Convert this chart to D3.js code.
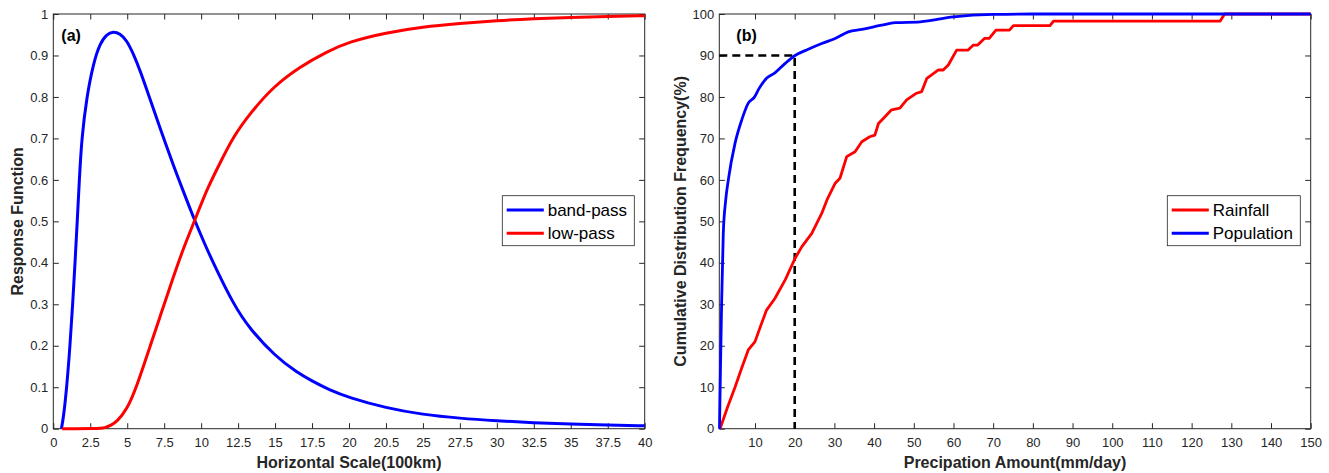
<!DOCTYPE html>
<html>
<head>
<meta charset="utf-8">
<script src="https://cdn.jsdelivr.net/npm/d3@7"></script>
<style>
  body { margin: 0; background: #fff; }
  svg { display: block; font-family: "Liberation Sans", Arial, sans-serif; }
</style>
</head>
<body>
<div id="chart"></div>
<script>
// ---- panel (a): response functions, [scale(100km), response]
const bandPass = [
  [0.55, 0], [0.7, 0.03], [0.91, 0.1], [1.13, 0.2], [1.31, 0.3], [1.47, 0.4],
  [1.62, 0.5], [1.76, 0.6], [1.92, 0.7], [2.26, 0.8], [2.71, 0.881], [3.16, 0.929],
  [3.6, 0.951], [4.06, 0.958], [4.5, 0.953], [4.96, 0.937], [5.4, 0.905], [5.86, 0.865],
  [6.54, 0.795], [7.22, 0.725], [8.12, 0.635], [8.79, 0.573], [9.58, 0.5], [10.37, 0.435],
  [10.82, 0.4], [12.18, 0.3], [13.26, 0.242], [15, 0.175], [16.5, 0.135], [17.5, 0.115],
  [18.7, 0.093], [20, 0.075], [22.5, 0.05], [25, 0.034], [27.5, 0.025], [30, 0.019],
  [32.5, 0.014], [35, 0.011], [37.5, 0.009], [40, 0.007]
];
const lowPass = [
  [0.6, 0], [3.0, 0], [3.5, 0.002], [3.9, 0.008], [4.29, 0.017], [4.97, 0.045],
  [5.64, 0.101], [6.54, 0.198], [7.22, 0.27], [7.89, 0.342], [8.79, 0.435], [9.58, 0.503],
  [10.37, 0.576], [11.27, 0.64], [12.17, 0.704], [13.3, 0.76], [14.88, 0.825],
  [16.69, 0.873], [18.49, 0.909], [20, 0.933], [22.5, 0.955], [25, 0.969], [27.5, 0.977],
  [30, 0.984], [32.5, 0.989], [35, 0.992], [37.5, 0.994], [40, 0.996]
];
const xTicksA = [0, 2.5, 5, 7.5, 10, 12.5, 15, 17.5, 20, 22.5, 25, 27.5, 30, 32.5, 35, 37.5, 40];
const xTickLabelsA = ["0", "2.5", "5", "7.5", "10", "12.5", "15", "17.5", "20", "20.5",
  "25", "27.5", "30", "32.5", "35", "37.5", "40"];
const yTicksA = [0, 0.1, 0.2, 0.3, 0.4, 0.5, 0.6, 0.7, 0.8, 0.9, 1];

// ---- panel (b): cumulative distribution, [mm/day, %]
const rainfall = [
  [1.2, 0], [3, 5], [4.96, 10], [6.6, 14.5], [8.3, 19], [10, 21], [11.5, 25], [12.9, 28.6],
  [15, 31.4], [17.6, 35.9], [20.1, 41.1], [21.8, 43.9], [24.3, 47.1], [26.8, 51.9],
  [28.1, 55.1], [30.2, 59.2], [31.4, 60.4], [33.1, 65.6], [35.2, 66.8], [36.9, 69.2],
  [38.9, 70.4], [40.2, 70.8], [41.1, 73.6], [42.5, 75], [44.4, 76.9], [46.5, 77.3],
  [48.2, 79.3], [50.7, 80.9], [52, 81.3], [53.3, 84.5], [56.2, 86.5], [57.4, 86.5],
  [58.7, 87.7], [60.8, 91.3], [63.7, 91.3], [65, 92.5], [66.1, 92.5], [67.8, 94.1],
  [69, 94.1], [70.7, 96.1], [74.1, 96.1], [75.1, 97.2], [84.3, 97.2], [85.2, 98.3],
  [127.2, 98.3], [128.3, 100], [150, 100]
];
const population = [
  [1.05, 0], [1.3, 15], [1.6, 31], [2.0, 47], [2.6, 55], [3.27, 60], [4.96, 68.8],
  [6.64, 74.4], [8.3, 78.5], [9.8, 79.9], [11, 82], [12.9, 84.5], [15, 85.8], [17.6, 88.1],
  [20.1, 90], [23.4, 91.5], [26.8, 92.9], [30.2, 94.1], [33.5, 95.7], [36.9, 96.3],
  [41.9, 97.3], [45.3, 97.9], [51.6, 98.1], [60, 99.3], [70, 99.9], [80, 100], [150, 100]
];
const guide = [[1, 90], [20, 90], [20, 0]];
const xTicksB = [10, 20, 30, 40, 50, 60, 70, 80, 90, 100, 110, 120, 130, 140, 150];
const yTicksB = [0, 10, 20, 30, 40, 50, 60, 70, 80, 90, 100];

const width = 1329, height = 473;
const axisColor = '#262626';

const svg = d3.select('#chart')
  .append('svg')
  .attr('width', width)
  .attr('height', height);

function drawPanel(p) {
  let x = d3.scaleLinear().domain(p.xDomain).range([p.left, p.right]);
  let y = d3.scaleLinear().domain(p.yDomain).range([p.bottom, p.top]);
  let g = svg.append('g');
  let tick = 5.5;

  // mirrored ticks, top and right
  g.append('g')
    .attr('transform', `translate(0,${p.top})`)
    .call(d3.axisTop(x).tickValues(p.xTicks).tickSizeInner(-tick).tickSizeOuter(0).tickFormat(''));
  g.append('g')
    .attr('transform', `translate(${p.right},0)`)
    .call(d3.axisRight(y).tickValues(p.yTicks).tickSizeInner(-tick).tickSizeOuter(0).tickFormat(''));

  let xAxis = g.append('g')
    .attr('transform', `translate(0,${p.bottom})`)
    .call(d3.axisBottom(x).tickValues(p.xTicks).tickSizeInner(-tick).tickSizeOuter(0)
      .tickPadding(9).tickFormat(p.xFormat));
  let yAxis = g.append('g')
    .attr('transform', `translate(${p.left},0)`)
    .call(d3.axisLeft(y).tickValues(p.yTicks).tickSizeInner(-tick).tickSizeOuter(0)
      .tickPadding(5).tickFormat(d => String(d)));

  g.selectAll('.domain').remove();
  g.selectAll('.tick line').attr('stroke', axisColor);
  [xAxis, yAxis].forEach(a => a.selectAll('text')
    .attr('fill', axisColor)
    .style('font-size', '13px')
    .style('font-family', '"Liberation Sans", Arial, sans-serif'));

  // box
  g.append('rect')
    .attr('x', p.left).attr('y', p.top)
    .attr('width', p.right - p.left).attr('height', p.bottom - p.top)
    .attr('fill', 'none').attr('stroke', axisColor).attr('stroke-width', 1);

  let line = d3.line().x(d => x(d[0])).y(d => y(d[1]));

  p.series.forEach(s => {
    g.append('path')
      .datum(s.data)
      .attr('fill', 'none')
      .attr('stroke', s.color)
      .attr('stroke-width', s.width)
      .attr('stroke-dasharray', s.dash || null)
      .attr('stroke-linejoin', 'round')
      .attr('d', line.curve(s.curve || d3.curveLinear)(s.data));
  });

  // panel letter
  g.append('text')
    .attr('x', p.left + p.letterDx).attr('y', 41)
    .attr('font-weight', 'bold').attr('font-size', 16)
    .attr('fill', '#000')
    .text(p.letter);

  // axis labels
  g.append('text')
    .attr('x', (p.left + p.right) / 2).attr('y', 468)
    .attr('text-anchor', 'middle')
    .attr('font-weight', 'bold').attr('font-size', 16)
    .attr('fill', axisColor)
    .text(p.xLabel);
  g.append('text')
    .attr('transform', `translate(${p.yLabelX},${(p.top + p.bottom) / 2}) rotate(-90)`)
    .attr('text-anchor', 'middle')
    .attr('font-weight', 'bold').attr('font-size', 16)
    .attr('fill', axisColor)
    .text(p.yLabel);

  // legend
  let lg = g.append('g').attr('transform', `translate(${p.legendX},195.7)`);
  lg.append('rect')
    .attr('width', p.legendW).attr('height', 50)
    .attr('fill', '#fff').attr('stroke', axisColor).attr('stroke-width', 0.8);
  p.legend.forEach((s, i) => {
    let ly = 14.3 + i * 23.3;
    lg.append('line')
      .attr('x1', 4.4).attr('x2', 41.5).attr('y1', ly).attr('y2', ly)
      .attr('stroke', s.color).attr('stroke-width', 3);
    lg.append('text')
      .attr('x', 45.4).attr('y', ly + 6)
      .attr('font-size', 17).attr('fill', '#000')
      .text(s.label);
  });
}

drawPanel({
  left: 53.3, right: 644.7, top: 14, bottom: 428.7,
  xDomain: [0, 40], yDomain: [0, 1],
  xTicks: xTicksA, yTicks: yTicksA,
  xFormat: (d, i) => xTickLabelsA[i],
  series: [
    {data: bandPass, color: '#0000ff', width: 3, curve: d3.curveBasis},
    {data: lowPass, color: '#ff0000', width: 3, curve: d3.curveBasis}
  ],
  legend: [{label: 'band-pass', color: '#0000ff'}, {label: 'low-pass', color: '#ff0000'}],
  legendX: 502.3, legendW: 132,
  letter: '(a)', letterDx: 8,
  xLabel: 'Horizontal Scale(100km)', yLabel: 'Response Function', yLabelX: 23
});

drawPanel({
  left: 719.3, right: 1310.7, top: 14, bottom: 428.7,
  xDomain: [1, 150], yDomain: [0, 100],
  xTicks: xTicksB, yTicks: yTicksB,
  xFormat: d => String(d),
  series: [
    {data: guide, color: '#000', width: 2.6, dash: '8,5'},
    {data: rainfall, color: '#ff0000', width: 2.8},
    {data: population, color: '#0000ff', width: 2.8, curve: d3.curveMonotoneX}
  ],
  legend: [{label: 'Rainfall', color: '#ff0000'}, {label: 'Population', color: '#0000ff'}],
  legendX: 1167.3, legendW: 133,
  letter: '(b)', letterDx: 17,
  xLabel: 'Precipation Amount(mm/day)', yLabel: 'Cumulative Distribution Frequency(%)', yLabelX: 686
});
</script>
</body>
</html>
